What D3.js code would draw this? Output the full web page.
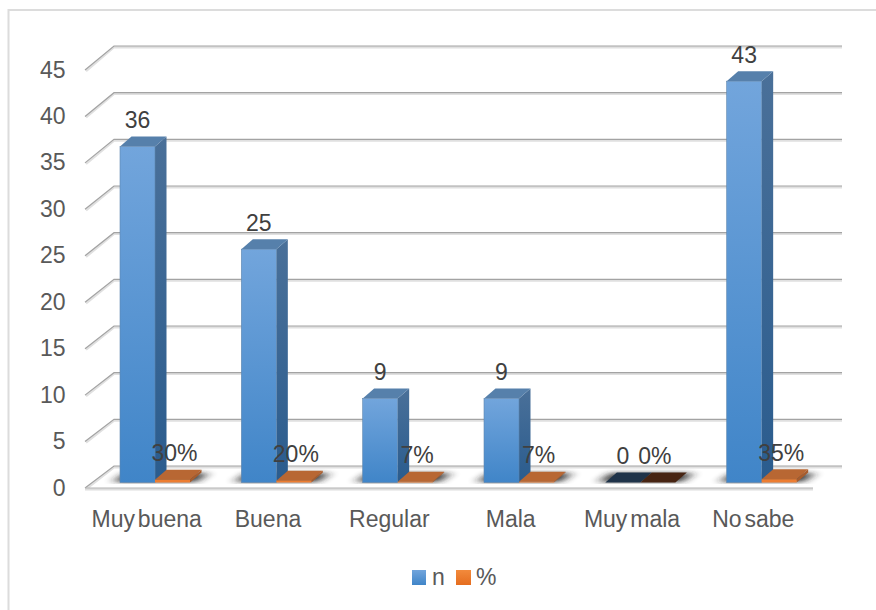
<!DOCTYPE html>
<html><head><meta charset="utf-8">
<script src="https://cdn.jsdelivr.net/npm/d3@7"></script>
<style>html,body{margin:0;padding:0;background:#fff}svg{display:block}text{font-family:"Liberation Sans",Arial,sans-serif}</style>
</head><body><svg id="c" width="876" height="610"></svg>
<script>
const categories = ["Muy buena","Buena","Regular","Mala","Muy mala","No sabe"];
const nValues = [36,25,9,9,0,43];
const pctValues = [0.30,0.20,0.07,0.07,0,0.35];
const pctLabels = ["30%","20%","7%","7%","0%","35%"];
const yTicks = [0,5,10,15,20,25,30,35,40,45];

const svg = d3.select("#c");
const dx = 29;                     // wall offset of the 3D box
const bdx = 11.5, bdy = 10;        // bar depth offset
const barW = 35;
const x = d3.scaleBand().domain(categories).range([85,813]);
const y = d3.scaleLinear().domain([0,45]).range([482.5,62.5]);
const yFront = d3.scaleLinear().domain([0,45]).range([488,70]);
const yBack = d3.scaleLinear().domain([0,45]).range([466,46]);
const bx = c => x(c) + barW;

const defs = svg.append("defs");
function grad(id,c1,c2){const g=defs.append("linearGradient").attr("id",id).attr("x1",0).attr("y1",0).attr("x2",0).attr("y2",1);
  g.append("stop").attr("offset",0).attr("stop-color",c1);g.append("stop").attr("offset",1).attr("stop-color",c2);}
grad("gFront","#72a5dc","#4085c8");
grad("gSide","#4a7099","#2a5c8e");
grad("gOrange","#f28a3c","#e56d1f");
defs.append("filter").attr("id","blur").attr("x","-30%").attr("y","-150%").attr("width","160%").attr("height","400%")
  .append("feGaussianBlur").attr("stdDeviation","5.5 2");
defs.append("clipPath").attr("id","floor").append("rect").attr("x",85).attr("y",468).attr("width",760).attr("height",16);

// frame
svg.append("path").attr("d","M8.5,610V10H876").attr("fill","none").attr("stroke","#dcdcdc").attr("stroke-width",2);

// gridlines
const grid = svg.append("g");
yTicks.forEach(t=>{
  const yb=yBack(t), yf=yFront(t);
  grid.append("path").attr("d",`M${85+1},${yf+1}L${85+dx},${yb+1.2}H${813+dx}`).attr("fill","none").attr("stroke","#e0e0e0").attr("stroke-width",2.4);
  grid.append("path").attr("d",`M85,${yf}L${85+dx},${yb}H${813+dx}`).attr("fill","none").attr("stroke","#a3a3a3").attr("stroke-width",1.2);
});
// floor front edge
grid.append("line").attr("x1",85).attr("x2",813).attr("y1",489.2).attr("y2",489.2).attr("stroke","#dedede").attr("stroke-width",2.4);
grid.append("line").attr("x1",85).attr("x2",813).attr("y1",488).attr("y2",488).attr("stroke","#b3b3b3").attr("stroke-width",1.2);

// floor shadows
svg.append("g").attr("clip-path","url(#floor)").selectAll("path").data(categories).join("path")
  .attr("d",c=>{const x0=bx(c),x2=x0+barW*2;return `M${x0-7},482L${x0+5},473H${x2+bdx+7}L${x2+7},482Z`;})
  .attr("fill","#222").attr("opacity",.85).attr("filter","url(#blur)");

const bars = svg.append("g");
categories.forEach((c,i)=>{
  const x0=bx(c), x1=x0+barW, x2=x1+barW, b=y(0);
  const tn=y(nValues[i]);
  const zeroN = nValues[i]===0;
  bars.append("path").attr("d",`M${x1},${b}L${x1+bdx},${b-bdy}V${tn-bdy}L${x1},${tn}Z`).attr("fill","url(#gSide)");
  bars.append("path").attr("d",`M${x0},${tn}L${x0+bdx},${tn-bdy}H${x1+bdx}L${x1},${tn}Z`).attr("fill",zeroN?"#1f3349":"#5680ab");
  if(!zeroN) bars.append("rect").attr("x",x0).attr("y",tn).attr("width",barW).attr("height",b-tn).attr("fill","url(#gFront)").attr("stroke","#5f86ae").attr("stroke-width",.6);
  const tp=y(pctValues[i]);
  const zeroP = pctValues[i]===0;
  bars.append("path").attr("d",`M${x1},${tp}L${x1+bdx},${tp-bdy}H${x2+bdx}L${x2},${tp}Z`).attr("fill",zeroP?"#472412":"#b86733");
  if(!zeroP){
    bars.append("path").attr("d",`M${x2},${b}L${x2+bdx},${b-bdy}V${tp-bdy}L${x2},${tp}Z`).attr("fill","#a85c2c");
    bars.append("rect").attr("x",x1).attr("y",tp).attr("width",barW).attr("height",b-tp).attr("fill","#ed7d31");
  }
});

// y tick labels
svg.append("g").selectAll("text").data(yTicks).join("text")
  .attr("x",65.5).attr("y",t=>yFront(t)+7.5).attr("text-anchor","end")
  .attr("font-size",23).attr("fill","#595959").text(t=>t);

// category labels
svg.append("g").selectAll("text").data(categories).join("text")
  .attr("x",c=>x(c)+x.bandwidth()/2+1).attr("y",527).attr("text-anchor","middle")
  .attr("font-size",23).attr("word-spacing",-3.5).attr("fill","#595959").text(c=>c);

// data labels
svg.append("g").selectAll("text").data(categories).join("text")
  .attr("x",c=>bx(c)+barW/2).attr("y",(c,i)=>y(nValues[i])-18.5).attr("text-anchor","middle")
  .attr("font-size",23).attr("fill","#404040").text((c,i)=>nValues[i]);
svg.append("g").selectAll("text").data(categories).join("text")
  .attr("x",(c,i)=>bx(c)+barW*1.5+(pctValues[i]===0?-3:2)).attr("y",(c,i)=>y(pctValues[i])-18.5).attr("text-anchor","middle")
  .attr("font-size",23).attr("fill","#404040").text((c,i)=>pctLabels[i]);

// legend
const legend = svg.append("g");
legend.append("rect").attr("x",412).attr("y",570).attr("width",14).attr("height",15).attr("fill","url(#gFront)");
legend.append("text").attr("x",432).attr("y",585).attr("font-size",23).attr("fill","#595959").text("n");
legend.append("rect").attr("x",456).attr("y",570).attr("width",15).attr("height",15).attr("fill","url(#gOrange)");
legend.append("text").attr("x",476).attr("y",585).attr("font-size",23).attr("fill","#595959").text("%");
</script></body></html>
